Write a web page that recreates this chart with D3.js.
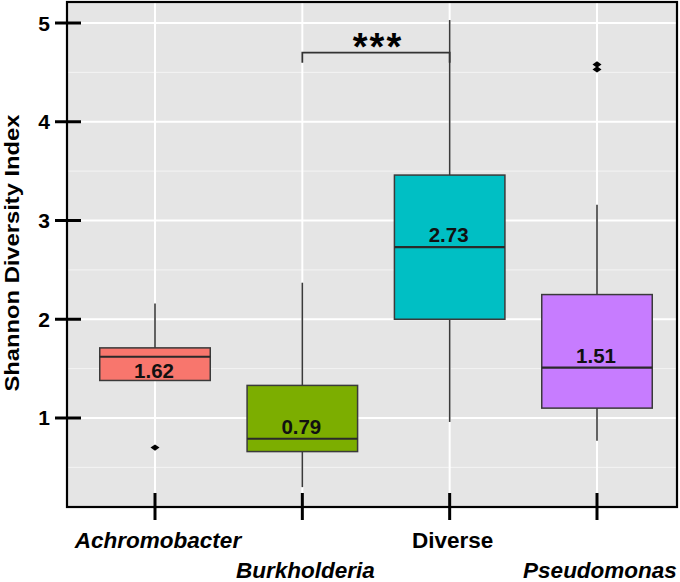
<!DOCTYPE html>
<html>
<head>
<meta charset="utf-8">
<script src="https://cdn.jsdelivr.net/npm/d3@7/dist/d3.min.js"></script>
<style>
  html,body{margin:0;padding:0;background:#fff;}
  svg{display:block;font-family:"Liberation Sans",Arial,sans-serif;}
</style>
</head>
<body>
<div id="chart"></div>
<script>
// box statistics
const categories=["Achromobacter","Burkholderia","Diverse","Pseudomonas"];
const whiskerLow=[1.38,0.30,0.96,0.77];
const q1=[1.38,0.66,2.00,1.10];
const median=[1.62,0.79,2.73,1.51];
const q3=[1.71,1.33,3.46,2.25];
const whiskerHigh=[2.16,2.37,5.03,3.16];
const outliers=[[0.70],[],[],[4.53,4.58]];
const medianLabels=["1.62","0.79","2.73","1.51"];
const yTicks=[1,2,3,4,5];
const yMinor=[0.5,1.5,2.5,3.5,4.5];
const colors=["#F8766D","#7CAE00","#00BFC4","#C77CFF"];
const sigFrom="Burkholderia", sigTo="Diverse", sigLevel=4.70, sigLabel="***";

(function(){
    let W=680,H=582;
    let panel={left:67,right:677,top:2,bottom:507};
    let svg=d3.select("#chart").append("svg")
        .attr("width",W).attr("height",H);

    let x=d3.scalePoint().domain(categories).range([155,597]);
    let y=d3.scaleLinear().domain([0.0987,5.2127]).range([panel.bottom,panel.top]);
    let boxW=x.step()*0.75;

    //panel background + grid
    svg.append("rect")
        .attr("x",panel.left).attr("y",panel.top)
        .attr("width",panel.right-panel.left).attr("height",panel.bottom-panel.top)
        .attr("fill","#e5e5e5");
    let grid=svg.append("g");
    yMinor.forEach(function(v){
        grid.append("line")
            .attr("x1",panel.left).attr("x2",panel.right)
            .attr("y1",y(v)).attr("y2",y(v))
            .attr("stroke","#f4f4f4").attr("stroke-width",1);
    });
    yTicks.forEach(function(v){
        grid.append("line")
            .attr("x1",panel.left).attr("x2",panel.right)
            .attr("y1",y(v)).attr("y2",y(v))
            .attr("stroke","#fff").attr("stroke-width",2);
    });
    categories.forEach(function(c){
        grid.append("line")
            .attr("x1",x(c)).attr("x2",x(c))
            .attr("y1",panel.top).attr("y2",panel.bottom)
            .attr("stroke","#fff").attr("stroke-width",2);
    });

    //boxes
    let boxes=svg.append("g");
    categories.forEach(function(c,i){
        let cx=x(c);
        boxes.append("line")
            .attr("x1",cx).attr("x2",cx)
            .attr("y1",y(whiskerHigh[i])).attr("y2",y(q3[i]))
            .attr("stroke","#3a3a3a").attr("stroke-width",1.6);
        boxes.append("line")
            .attr("x1",cx).attr("x2",cx)
            .attr("y1",y(q1[i])).attr("y2",y(whiskerLow[i]))
            .attr("stroke","#3a3a3a").attr("stroke-width",1.6);
        boxes.append("rect")
            .attr("x",cx-boxW/2).attr("y",y(q3[i]))
            .attr("width",boxW).attr("height",y(q1[i])-y(q3[i]))
            .attr("fill",colors[i])
            .attr("stroke","#3a3a3a").attr("stroke-width",1.5);
        boxes.append("line")
            .attr("x1",cx-boxW/2).attr("x2",cx+boxW/2)
            .attr("y1",y(median[i])).attr("y2",y(median[i]))
            .attr("stroke","#2a2a2a").attr("stroke-width",2.2);
        outliers[i].forEach(function(v){
            boxes.append("path")
                .attr("d","M"+(cx-4.5)+","+y(v)+"L"+cx+","+(y(v)-3.2)+"L"+(cx+4.5)+","+y(v)+"L"+cx+","+(y(v)+3.2)+"Z")
                .attr("fill","#000");
        });
        //label above the median, or below when the upper half is too thin
        let above=(y(median[i])-y(q3[i]))>20;
        boxes.append("text")
            .attr("x",cx-1)
            .attr("y",above ? y(median[i])-5 : y(median[i])+21)
            .attr("text-anchor","middle")
            .attr("font-size",20.5).attr("font-weight","bold")
            .attr("fill","#111")
            .text(medianLabels[i]);
    });

    //significance bracket
    let sig=svg.append("g");
    let ys=y(sigLevel);
    sig.append("path")
        .attr("d","M"+x(sigFrom)+","+(ys+10)+"V"+ys+"H"+x(sigTo)+"V"+(ys+10))
        .attr("fill","none").attr("stroke","#333").attr("stroke-width",1.8);
    sig.append("text")
        .attr("x",(x(sigFrom)+x(sigTo))/2+2).attr("y",ys+7)
        .attr("text-anchor","middle")
        .attr("font-size",38).attr("font-weight","bold")
        .attr("letter-spacing",2)
        .text(sigLabel);

    //panel border
    svg.append("rect")
        .attr("x",panel.left).attr("y",panel.top)
        .attr("width",panel.right-panel.left).attr("height",panel.bottom-panel.top)
        .attr("fill","none").attr("stroke","#000").attr("stroke-width",2.2);

    //y axis
    let yAxis=svg.append("g");
    yTicks.forEach(function(v){
        yAxis.append("line")
            .attr("x1",55).attr("x2",81)
            .attr("y1",y(v)).attr("y2",y(v))
            .attr("stroke","#000").attr("stroke-width",3);
        yAxis.append("text")
            .attr("x",50).attr("y",y(v)+7.5)
            .attr("text-anchor","end")
            .attr("font-size",21).attr("font-weight","bold")
            .text(v);
    });
    svg.append("text")
        .attr("transform","translate(18.5,253) rotate(-90)")
        .attr("text-anchor","middle")
        .attr("font-size",21).attr("font-weight","bold")
        .attr("textLength",277).attr("lengthAdjust","spacingAndGlyphs")
        .text("Shannon Diversity Index");

    //x axis with staggered labels
    let xAxis=svg.append("g");
    categories.forEach(function(c,i){
        xAxis.append("line")
            .attr("x1",x(c)).attr("x2",x(c))
            .attr("y1",493).attr("y2",520)
            .attr("stroke","#000").attr("stroke-width",3);
        xAxis.append("text")
            .attr("x",x(c)+3).attr("y",i%2===0 ? 548 : 578)
            .attr("text-anchor","middle")
            .attr("font-size",22.5).attr("font-weight","bold")
            .attr("font-style",c==="Diverse" ? "normal" : "italic")
            .text(c);
    });
})();
</script>
</body>
</html>
